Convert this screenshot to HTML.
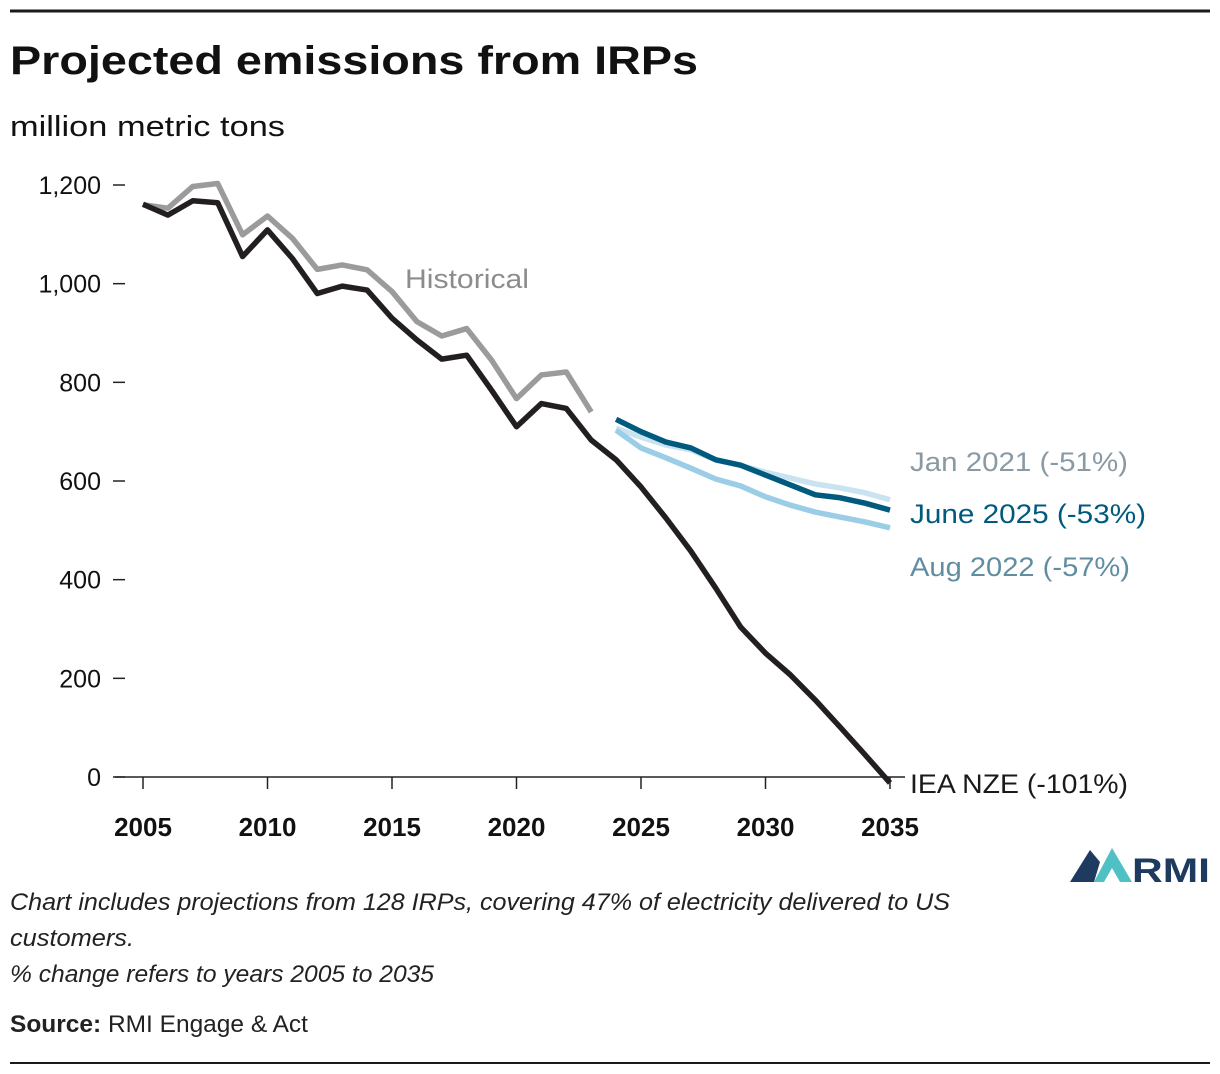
<!DOCTYPE html>
<html><head><meta charset="utf-8">
<style>
body{margin:0;background:#fff;font-family:"Liberation Sans",sans-serif;}
#wrap{position:relative;width:1220px;height:1074px;overflow:hidden;}
</style></head>
<body>
<div id="wrap">
<svg id="chart" width="1220" height="1074" xmlns="http://www.w3.org/2000/svg">
<line x1="10" y1="11" x2="1210" y2="11" stroke="#1a1a1a" stroke-width="3"/>
<text x="10" y="74" font-size="40" font-weight="bold" fill="#111" textLength="688" lengthAdjust="spacingAndGlyphs">Projected emissions from IRPs</text>
<text x="10" y="136" font-size="29" fill="#111" textLength="275" lengthAdjust="spacingAndGlyphs">million metric tons</text>
<g id="axes"></g>
<g id="series"></g>
<text x="405" y="288" font-size="27" fill="#8c8c8c" textLength="124" lengthAdjust="spacingAndGlyphs">Historical</text>
<text x="910" y="471" font-size="27" fill="#8a9aa4" textLength="218" lengthAdjust="spacingAndGlyphs">Jan 2021 (-51%)</text>
<text x="910" y="523" font-size="27" fill="#005a7d" textLength="236" lengthAdjust="spacingAndGlyphs">June 2025 (-53%)</text>
<text x="910" y="576" font-size="27" fill="#5f8ea3" textLength="220" lengthAdjust="spacingAndGlyphs">Aug 2022 (-57%)</text>
<text x="910" y="793" font-size="27" fill="#1a1a1a" textLength="218" lengthAdjust="spacingAndGlyphs">IEA NZE (-101%)</text>
<g>
<polygon points="1070,882 1090,850 1100,862 1094,882" fill="#1e3a5f"/>
<polygon points="1094,882 1112,848 1132,882 1120,882 1112,868 1104,882" fill="#4fc1c4"/>
<text x="1132" y="882" font-size="34" font-weight="bold" fill="#1e3a5f" textLength="78" lengthAdjust="spacingAndGlyphs">RMI</text>
</g>
<text x="10" y="910" font-size="24" font-style="italic" fill="#222" textLength="940" lengthAdjust="spacingAndGlyphs">Chart includes projections from 128 IRPs, covering 47% of electricity delivered to US</text>
<text x="10" y="946" font-size="24" font-style="italic" fill="#222" textLength="124" lengthAdjust="spacingAndGlyphs">customers.</text>
<text x="10" y="982" font-size="24" font-style="italic" fill="#222" textLength="424" lengthAdjust="spacingAndGlyphs">% change refers to years 2005 to 2035</text>
<text x="10" y="1032" font-size="24" fill="#222" textLength="298" lengthAdjust="spacingAndGlyphs"><tspan font-weight="bold">Source:</tspan> RMI Engage &amp; Act</text>
<line x1="10" y1="1063" x2="1210" y2="1063" stroke="#1a1a1a" stroke-width="2"/>
</svg>
</div>
<script>
const yTicks = [0, 200, 400, 600, 800, 1000, 1200];
const xTicks = [2005, 2010, 2015, 2020, 2025, 2030, 2035];
const histYears = [2005,2006,2007,2008,2009,2010,2011,2012,2013,2014,2015,2016,2017,2018,2019,2020,2021,2022,2023];
const historical = [1160,1153,1197,1203,1099,1137,1092,1029,1038,1028,984,923,894,909,845,767,815,821,740];
const nzeYears = [2005,2006,2007,2008,2009,2010,2011,2012,2013,2014,2015,2016,2017,2018,2019,2020,2021,2022,2023,2024,2025,2026,2027,2028,2029,2030,2031,2032,2033,2034,2035];
const ieaNze = [1161,1139,1168,1164,1055,1109,1051,980,995,987,930,886,847,855,784,710,757,747,683,643,588,525,458,383,304,251,207,156,101,45,-12];
const projYears = [2024,2025,2026,2027,2028,2029,2030,2031,2032,2033,2034,2035];
const jan2021 = [707,689,673,663,643,632,618,606,594,586,576,562];
const aug2022 = [703,667,647,626,604,590,568,551,537,527,517,505];
const june2025 = [725,700,679,667,643,632,612,592,572,566,555,541];

const NS = "http://www.w3.org/2000/svg";
const xScale = yr => 143 + (yr - 2005) * (890 - 143) / 30;
const yScale = v => 777 - v * (777 - 185) / 1200;
const axes = document.getElementById('axes');
const series = document.getElementById('series');

yTicks.forEach(t => {
  const ln = document.createElementNS(NS, 'line');
  
  
  ln.setAttribute('x1', 113); ln.setAttribute('x2', 125);
  ln.setAttribute('y1', yScale(t)); ln.setAttribute('y2', yScale(t));
  ln.setAttribute('stroke', '#222'); ln.setAttribute('stroke-width', 1.5);
  axes.appendChild(ln);
  const tx = document.createElementNS(NS, 'text');
  
  
  tx.setAttribute('x', 101); tx.setAttribute('y', yScale(t) + 9);
  tx.setAttribute('text-anchor', 'end'); tx.setAttribute('font-size', 25); tx.setAttribute('fill', '#111');
  tx.textContent = t.toLocaleString('en-US');
  axes.appendChild(tx);
});
const base = document.createElementNS(NS, 'line');


base.setAttribute('x1', 115); base.setAttribute('x2', 905);
base.setAttribute('y1', 777); base.setAttribute('y2', 777);
base.setAttribute('stroke', '#222'); base.setAttribute('stroke-width', 1.5);
axes.appendChild(base);
xTicks.forEach(t => {
  const ln = document.createElementNS(NS, 'line');
  
  
  ln.setAttribute('x1', xScale(t)); ln.setAttribute('x2', xScale(t));
  ln.setAttribute('y1', 777); ln.setAttribute('y2', 789);
  ln.setAttribute('stroke', '#222'); ln.setAttribute('stroke-width', 1.5);
  axes.appendChild(ln);
  const tx = document.createElementNS(NS, 'text');
  
  
  tx.setAttribute('x', xScale(t)); tx.setAttribute('y', 836);
  tx.setAttribute('text-anchor', 'middle'); tx.setAttribute('font-size', 26);
  tx.setAttribute('font-weight', 'bold'); tx.setAttribute('fill', '#111');
  tx.textContent = t;
  axes.appendChild(tx);
});
function drawLine(years, vals, color, name) {
  const p = document.createElementNS(NS, 'polyline');
  
  
  p.setAttribute('points', years.map((y, i) => xScale(y) + ',' + yScale(vals[i])).join(' '));
  p.setAttribute('fill', 'none'); p.setAttribute('stroke', color);
  p.setAttribute('stroke-width', 5.5); p.setAttribute('stroke-linejoin', 'round');
  series.appendChild(p);
}
drawLine(histYears, historical, '#9b9b9b', 'historical-line');
drawLine(nzeYears, ieaNze, '#231f20', 'iea-nze-line');
drawLine(projYears, jan2021, '#c9e3f1', 'jan-2021-line');
drawLine(projYears, aug2022, '#9ccde6', 'aug-2022-line');
drawLine(projYears, june2025, '#005a7d', 'june-2025-line');
</script>
</body></html>
